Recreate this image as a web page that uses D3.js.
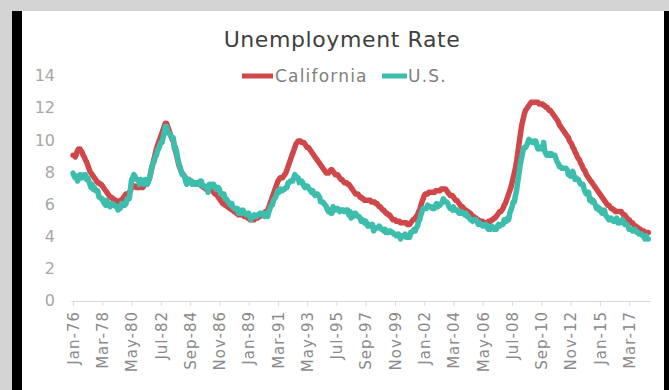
<!DOCTYPE html>
<html>
<head>
<meta charset="utf-8">
<script src="https://cdn.jsdelivr.net/npm/d3@7/dist/d3.min.js"></script>
<style>
html,body{margin:0;padding:0;background:#d4d4d4;}
svg{display:block;}
text{font-family:"DejaVu Sans",sans-serif;}
</style>
</head>
<body>
<svg id="chart" width="669" height="390"></svg>
<script>
// Monthly data, Jan-1976 .. Aug-2018
const startYear = 1976;
const tickLabels = ["Jan-76","Mar-78","May-80","Jul-82","Sep-84","Nov-86","Jan-89","Mar-91","May-93","Jul-95","Sep-97","Nov-99","Jan-02","Mar-04","May-06","Jul-08","Sep-10","Nov-12","Jan-15","Mar-17"];
const tickStep = 26; // months between labelled categories
const yTicks = [0,2,4,6,8,10,12,14];
const seriesNames = ["California","U.S."];
const california = [
 9.0,9.0,8.9,9.1,9.3,9.4,9.4,9.3,9.2,9.0,8.9,8.7,
 8.6,8.4,8.2,8.0,7.9,7.8,7.7,7.6,7.5,7.4,7.3,7.3,
 7.2,7.2,7.1,7.0,6.9,6.8,6.7,6.6,6.5,6.4,6.4,6.3,
 6.3,6.2,6.2,6.1,6.1,6.1,6.2,6.2,6.3,6.4,6.5,6.6,
 6.6,6.6,6.7,6.8,7.0,7.1,7.1,7.1,7.0,7.0,7.0,7.0,
 7.0,7.0,7.0,7.1,7.2,7.2,7.3,7.4,7.6,7.9,8.2,8.5,
 8.8,9.1,9.4,9.6,9.8,10.0,10.2,10.4,10.6,10.8,11.0,11.0,
 10.8,10.6,10.4,10.2,10.0,9.9,9.6,9.3,9.0,8.7,8.4,8.2,
 8.0,7.9,7.8,7.7,7.6,7.5,7.5,7.5,7.4,7.4,7.3,7.3,
 7.3,7.2,7.2,7.2,7.2,7.2,7.1,7.1,7.0,7.0,6.9,6.9,
 6.9,6.9,7.0,6.9,6.8,6.7,6.6,6.6,6.5,6.4,6.3,6.2,
 6.1,6.0,6.0,5.9,5.9,5.8,5.8,5.7,5.7,5.6,5.6,5.5,
 5.5,5.4,5.4,5.3,5.3,5.3,5.3,5.3,5.2,5.2,5.2,5.1,
 5.1,5.0,5.0,5.0,5.0,5.0,5.1,5.1,5.1,5.2,5.2,5.3,
 5.3,5.3,5.4,5.5,5.5,5.6,5.8,6.0,6.2,6.4,6.6,6.8,
 7.0,7.2,7.4,7.5,7.6,7.6,7.6,7.7,7.8,7.9,8.1,8.3,
 8.5,8.7,8.9,9.1,9.3,9.5,9.7,9.8,9.9,9.9,9.9,9.8,
 9.8,9.8,9.7,9.6,9.5,9.5,9.4,9.3,9.2,9.1,9.0,8.9,
 8.8,8.7,8.6,8.5,8.4,8.3,8.2,8.1,8.0,7.9,7.9,7.9,
 8.0,8.1,8.1,8.0,7.9,7.8,7.8,7.8,7.7,7.6,7.5,7.5,
 7.4,7.3,7.3,7.3,7.2,7.2,7.1,7.0,6.9,6.8,6.7,6.6,
 6.6,6.6,6.5,6.4,6.4,6.3,6.3,6.2,6.2,6.2,6.2,6.2,
 6.2,6.1,6.1,6.1,6.1,6.0,6.0,5.9,5.8,5.8,5.7,5.6,
 5.6,5.5,5.4,5.4,5.3,5.3,5.2,5.1,5.0,5.0,5.0,4.9,
 4.9,4.9,4.9,4.8,4.8,4.8,4.8,4.8,4.8,4.7,4.7,4.7,
 4.8,4.9,5.0,5.0,5.1,5.2,5.3,5.5,5.6,5.9,6.1,6.3,
 6.5,6.6,6.6,6.6,6.7,6.7,6.7,6.7,6.7,6.7,6.8,6.8,
 6.8,6.8,6.8,6.9,6.9,6.9,6.9,6.9,6.8,6.7,6.6,6.5,
 6.5,6.5,6.4,6.3,6.2,6.2,6.1,6.0,5.9,5.8,5.8,5.7,
 5.6,5.6,5.5,5.5,5.4,5.4,5.3,5.2,5.2,5.1,5.1,5.0,
 5.0,4.9,4.9,4.9,4.9,4.8,4.8,4.8,4.8,4.9,4.9,4.9,
 5.0,5.0,5.1,5.1,5.2,5.3,5.4,5.5,5.5,5.6,5.7,5.9,
 6.0,6.2,6.4,6.6,6.8,7.0,7.3,7.6,7.9,8.2,8.6,9.1,
 9.6,10.1,10.6,11.0,11.3,11.6,11.8,11.9,12.0,12.1,12.2,12.3,
 12.3,12.3,12.3,12.3,12.3,12.3,12.2,12.2,12.2,12.2,12.1,12.1,
 12.0,12.0,11.9,11.8,11.8,11.7,11.6,11.5,11.4,11.3,11.2,11.1,
 10.9,10.8,10.7,10.6,10.5,10.4,10.3,10.2,10.1,9.9,9.8,9.7,
 9.5,9.4,9.2,9.1,8.9,8.8,8.7,8.5,8.4,8.2,8.1,8.0,
 7.8,7.7,7.6,7.5,7.4,7.3,7.2,7.1,7.0,6.9,6.8,6.7,
 6.6,6.5,6.4,6.3,6.2,6.1,6.0,5.9,5.9,5.8,5.7,5.7,
 5.6,5.6,5.5,5.5,5.5,5.5,5.5,5.5,5.4,5.3,5.3,5.2,
 5.1,5.0,5.0,4.9,4.8,4.8,4.7,4.6,4.6,4.5,4.5,4.4,
 4.4,4.3,4.3,4.3,4.2,4.2,4.2,4.2
];
const us = [
 7.9,7.7,7.6,7.7,7.4,7.6,7.8,7.8,7.6,7.7,7.8,7.8,
 7.5,7.6,7.4,7.2,7.0,7.2,6.9,7.0,6.8,6.8,6.8,6.4,
 6.4,6.3,6.3,6.1,6.0,5.9,6.2,5.9,6.0,5.8,5.9,6.0,
 5.9,5.9,5.8,5.8,5.6,5.7,5.7,6.0,5.9,6.0,5.9,6.0,
 6.3,6.3,6.3,6.9,7.5,7.6,7.8,7.7,7.5,7.5,7.5,7.2,
 7.5,7.4,7.4,7.2,7.5,7.5,7.2,7.4,7.6,7.9,8.3,8.5,
 8.6,8.9,9.0,9.3,9.4,9.6,9.8,9.8,10.1,10.4,10.8,10.8,
 10.4,10.4,10.3,10.2,10.1,10.1,9.4,9.5,9.2,8.8,8.5,8.3,
 8.0,7.8,7.8,7.7,7.4,7.2,7.5,7.5,7.3,7.4,7.2,7.3,
 7.3,7.2,7.2,7.3,7.2,7.4,7.4,7.1,7.1,7.1,7.0,7.0,
 6.7,7.2,7.2,7.1,7.2,7.2,7.0,6.9,7.0,7.0,6.9,6.6,
 6.6,6.6,6.6,6.3,6.3,6.2,6.1,6.0,5.9,6.0,5.8,5.7,
 5.7,5.7,5.7,5.4,5.6,5.4,5.4,5.6,5.4,5.4,5.3,5.3,
 5.4,5.2,5.0,5.2,5.2,5.3,5.2,5.2,5.3,5.3,5.4,5.4,
 5.4,5.3,5.2,5.4,5.4,5.2,5.5,5.7,5.9,5.9,6.2,6.3,
 6.4,6.6,6.8,6.7,6.9,6.9,6.8,6.9,6.9,7.0,7.0,7.3,
 7.3,7.4,7.4,7.4,7.6,7.8,7.7,7.6,7.6,7.3,7.4,7.4,
 7.3,7.1,7.0,7.1,7.1,7.0,6.9,6.8,6.7,6.8,6.6,6.5,
 6.6,6.6,6.5,6.4,6.1,6.1,6.1,6.0,5.9,5.8,5.6,5.5,
 5.6,5.4,5.4,5.8,5.6,5.6,5.7,5.7,5.6,5.5,5.6,5.6,
 5.6,5.5,5.5,5.6,5.6,5.3,5.5,5.1,5.2,5.2,5.4,5.4,
 5.3,5.2,5.2,5.1,4.9,5.0,4.9,4.8,4.9,4.7,4.6,4.7,
 4.6,4.6,4.7,4.3,4.4,4.5,4.5,4.5,4.6,4.5,4.4,4.4,
 4.3,4.4,4.2,4.3,4.2,4.3,4.3,4.2,4.2,4.1,4.1,4.0,
 4.0,4.1,4.0,3.8,4.0,4.0,4.0,4.1,3.9,3.9,3.9,3.9,
 4.2,4.2,4.3,4.4,4.3,4.5,4.6,4.9,5.0,5.3,5.5,5.7,
 5.7,5.7,5.7,5.9,5.8,5.8,5.8,5.7,5.7,5.7,5.9,6.0,
 5.8,5.9,5.9,6.0,6.1,6.3,6.2,6.1,6.1,6.0,5.8,5.7,
 5.7,5.6,5.8,5.6,5.6,5.6,5.5,5.4,5.4,5.5,5.4,5.4,
 5.3,5.4,5.2,5.2,5.1,5.0,5.0,4.9,5.0,5.0,5.0,4.9,
 4.7,4.8,4.7,4.7,4.6,4.6,4.7,4.7,4.5,4.4,4.5,4.4,
 4.6,4.5,4.4,4.5,4.4,4.6,4.7,4.6,4.7,4.7,4.7,5.0,
 5.0,4.9,5.1,5.0,5.4,5.6,5.8,6.1,6.1,6.5,6.8,7.3,
 7.8,8.3,8.7,9.0,9.4,9.5,9.5,9.6,9.8,10.0,9.9,9.9,
 9.8,9.8,9.9,9.9,9.6,9.4,9.4,9.5,9.5,9.4,9.8,9.3,
 9.1,9.0,9.0,9.1,9.0,9.1,9.0,9.0,9.0,8.8,8.6,8.5,
 8.3,8.3,8.2,8.2,8.2,8.2,8.2,8.1,7.8,7.8,7.7,7.9,
 8.0,7.7,7.5,7.6,7.5,7.5,7.3,7.2,7.2,7.2,6.9,6.7,
 6.6,6.7,6.7,6.2,6.3,6.1,6.2,6.1,5.9,5.7,5.8,5.6,
 5.7,5.5,5.4,5.4,5.6,5.3,5.2,5.1,5.0,5.0,5.1,5.0,
 4.9,4.9,5.0,5.1,4.8,4.9,4.8,4.9,5.0,4.9,4.7,4.7,
 4.7,4.6,4.4,4.4,4.4,4.3,4.3,4.4,4.3,4.2,4.2,4.1,
 4.1,4.1,4.0,4.0,3.8,4.0,3.8,3.8
];
const colors = ["#d0474a","#3dbdac"];

const svg = d3.select("#chart");
// frame
svg.append("rect").attr("x",0).attr("y",0).attr("width",669).attr("height",390).attr("fill","#d4d4d4");
svg.append("rect").attr("x",12).attr("y",11).attr("width",10).attr("height",379).attr("fill","#000");
svg.append("rect").attr("x",22).attr("y",11).attr("width",642).attr("height",379).attr("fill","#fff");
svg.append("rect").attr("x",664).attr("y",11).attr("width",5).attr("height",379).attr("fill","#000");

const defs = svg.append("defs");
defs.append("filter").attr("id","soft").append("feGaussianBlur").attr("stdDeviation",0.5);

const n = us.length;
const x = d3.scaleLinear().domain([-2, n+1]).range([70.8, 650.5]);
const y = d3.scaleLinear().domain([0, 14]).range([300, 75]);

// title
svg.append("text").attr("x",342).attr("y",47).attr("text-anchor","middle")
  .attr("font-size",22).attr("letter-spacing",0.6).attr("fill","#404040").text("Unemployment Rate");

// y axis labels (no line)
const yAxis = d3.axisLeft(y).tickValues(yTicks).tickSize(0).tickPadding(0);
const gy = svg.append("g").attr("transform","translate(55,0)").call(yAxis);
gy.select(".domain").remove();
gy.selectAll("text").attr("font-size",16).attr("fill","#a6a6a6").attr("font-family","DejaVu Sans").attr("dy","0.36em");

// x axis
const tickIdx = tickLabels.map((d,i)=>i*tickStep);
const xAxis = d3.axisBottom(x).tickValues(tickIdx).tickFormat((d,i)=>tickLabels[i]).tickSize(5).tickSizeOuter(0);
const gx = svg.append("g").attr("transform","translate(0,301)").call(xAxis);
gx.select(".domain").attr("stroke","#d9d9d9");
gx.selectAll(".tick line").attr("stroke","#d9d9d9");
gx.selectAll("text").attr("font-size",15).attr("letter-spacing",1).attr("fill","#8a8a8a").attr("font-family","DejaVu Sans")
  .attr("transform","rotate(-90)").attr("text-anchor","end").attr("x",-10).attr("y",0).attr("dy","0.35em");

// lines
const line = d3.line().x((d,i)=>x(i)).y(d=>y(d)).curve(d3.curveLinear);
[california, us].forEach((s,k)=>{
  svg.append("path").datum(s).attr("d",line).attr("fill","none").attr("filter","url(#soft)")
    .attr("stroke",colors[k]).attr("stroke-width",5.5).attr("stroke-linejoin","round").attr("stroke-linecap","round");
});

// legend
const legend = [{name:seriesNames[0],x1:242,x2:273,tx:275},{name:seriesNames[1],x1:382,x2:407,tx:408}];
legend.forEach((l,k)=>{
  svg.append("line").attr("x1",l.x1).attr("x2",l.x2).attr("y1",76).attr("y2",76)
    .attr("stroke",colors[k]).attr("stroke-width",5);
  svg.append("text").attr("x",l.tx).attr("y",82).attr("font-size",17).attr("letter-spacing",1.2).attr("fill","#808080").text(l.name);
});
</script>
</body>
</html>
